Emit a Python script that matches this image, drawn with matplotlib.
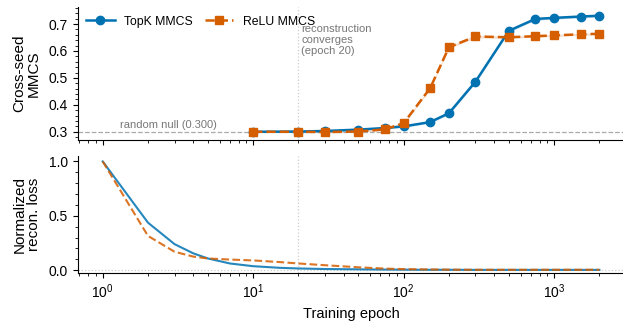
import numpy as np
import matplotlib.pyplot as plt
from matplotlib.ticker import AutoMinorLocator, MultipleLocator

plt.rcParams['font.family'] = ['Liberation Sans', 'DejaVu Sans']

# MMCS checkpoints
epochs = [10, 20, 30, 50, 75, 100, 150, 200, 300, 500, 750, 1000, 1500, 2000]
topk_mmcs = [0.300, 0.301, 0.303, 0.308, 0.314, 0.320, 0.336, 0.369, 0.486,
             0.675, 0.719, 0.723, 0.728, 0.731]
relu_mmcs = [0.300, 0.300, 0.299, 0.301, 0.309, 0.332, 0.462, 0.614, 0.654,
             0.651, 0.655, 0.658, 0.662, 0.664]
topk_std = [0.002, 0.002, 0.003, 0.003, 0.003, 0.004, 0.004, 0.005, 0.006,
            0.005, 0.005, 0.005, 0.005, 0.005]
relu_std = [0.002, 0.002, 0.002, 0.003, 0.003, 0.004, 0.005, 0.005, 0.005,
            0.004, 0.004, 0.004, 0.004, 0.004]

# reconstruction loss curve
loss_epochs = [1, 2, 3, 4, 5, 7, 10, 15, 20, 30, 50, 75, 100, 150, 200, 300,
               500, 750, 1000, 1500, 2000]
topk_loss = [1.0, 0.437, 0.240, 0.155, 0.108, 0.062, 0.037, 0.022, 0.016,
             0.011, 0.008, 0.006, 0.005, 0.004, 0.004, 0.003, 0.003, 0.003,
             0.003, 0.003, 0.003]
relu_loss = [1.0, 0.315, 0.170, 0.125, 0.108, 0.098, 0.090, 0.075, 0.062,
             0.046, 0.027, 0.015, 0.010, 0.007, 0.005, 0.004, 0.004, 0.004,
             0.004, 0.004, 0.004]

null_val = 0.300
conv_epoch = 20
blue = '#0072B2'
orange = '#D55E00'

fig = plt.figure(figsize=(6.23, 3.23), dpi=100)
ax1 = fig.add_axes([0.125, 0.567, 0.877, 0.411])
ax2 = fig.add_axes([0.125, 0.155, 0.877, 0.362], sharex=ax1)

# top panel
ax1.fill_between(epochs, np.array(topk_mmcs) - topk_std, np.array(topk_mmcs) + topk_std,
                 color=blue, alpha=0.2, lw=0)
ax1.fill_between(epochs, np.array(relu_mmcs) - relu_std, np.array(relu_mmcs) + relu_std,
                 color=orange, alpha=0.2, lw=0)
ax1.plot(epochs, topk_mmcs, '-o', color=blue, lw=1.8, ms=6, label='TopK MMCS')
ax1.plot(epochs, relu_mmcs, '--s', color=orange, lw=1.8, ms=6, label='ReLU MMCS')
ax1.axhline(null_val, color='#aaaaaa', ls='--', lw=0.9, zorder=0)
ax1.axvline(conv_epoch, color='#cccccc', ls=':', lw=0.9, zorder=0)
ax1.text(1.3, null_val + 0.008, 'random null (0.300)', color='#777777', fontsize=8,
         va='bottom', ha='left')
ax1.text(conv_epoch * 1.04, 0.702, 'reconstruction\nconverges\n(epoch 20)', color='#777777',
         fontsize=8, va='top', ha='left', linespacing=1.15)
ax1.set_ylim(0.27, 0.763)
ax1.yaxis.set_major_locator(MultipleLocator(0.1))
ax1.set_ylabel('Cross-seed\nMMCS', fontsize=11, linespacing=1.0)
ax1.legend(loc='upper left', ncol=2, frameon=False, fontsize=8.8, handlelength=2.3,
           borderaxespad=0.3, columnspacing=1.0, bbox_to_anchor=(0.0, 1.0))
ax1.tick_params(labelbottom=False)

# bottom panel
ax2.plot(loss_epochs, topk_loss, '-', color=blue, lw=1.5, alpha=0.85)
ax2.plot(loss_epochs, relu_loss, '--', color=orange, lw=1.5, alpha=0.85)
ax2.axhline(0, color='#cccccc', ls=':', lw=0.9, zorder=0)
ax2.axvline(conv_epoch, color='#cccccc', ls=':', lw=0.9, zorder=0)
ax2.set_ylim(-0.025, 1.05)
ax2.set_yticks([0.0, 0.5, 1.0])
ax2.set_ylabel('Normalized\nrecon. loss', fontsize=11, linespacing=1.0)
ax2.set_xlabel('Training epoch', fontsize=10.5)
ax2.set_xscale('log')

for ax in (ax1, ax2):
    ax.spines['top'].set_visible(False)
    ax.spines['right'].set_visible(False)
    ax.yaxis.set_minor_locator(AutoMinorLocator(5))
    ax.tick_params(labelsize=10)

ax1.yaxis.labelpad = 6
ax2.yaxis.labelpad = 6
fig.align_ylabels([ax1, ax2])

fig.savefig('out.png', dpi=100)
